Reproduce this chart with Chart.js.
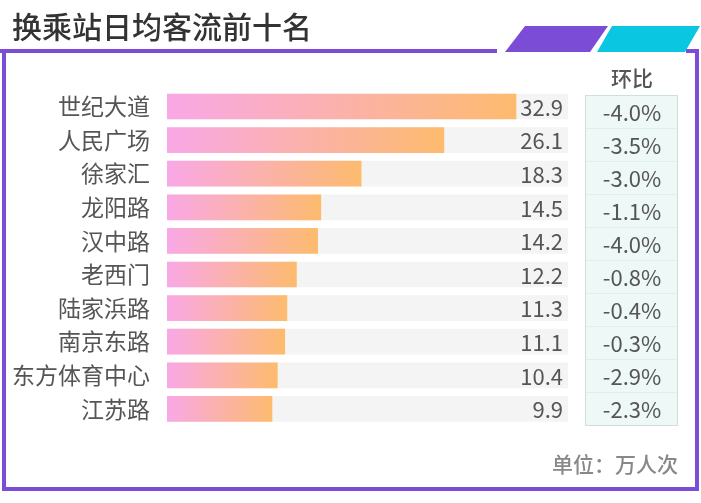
<!DOCTYPE html>
<html>
<head>
<meta charset="utf-8">
<script src="https://cdn.jsdelivr.net/npm/chart.js@4.4.1/dist/chart.umd.min.js"></script>
<style>
  html, body { margin: 0; padding: 0; background: #fff; }
  #wrap { position: relative; width: 701px; height: 503px; }
</style>
</head>
<body>
<div id="wrap"><canvas id="myChart" width="701" height="503"></canvas></div>
<script>
const TITLE = '换乘站日均客流前十名';
const UNIT = '单位：万人次';
const CHANGE_TITLE = '环比';
const stations = ['世纪大道', '人民广场', '徐家汇', '龙阳路', '汉中路', '老西门', '陆家浜路', '南京东路', '东方体育中心', '江苏路'];
const flows = [32.9, 26.1, 18.3, 14.5, 14.2, 12.2, 11.3, 11.1, 10.4, 9.9];
const changes = ['-4.0%', '-3.5%', '-3.0%', '-1.1%', '-4.0%', '-0.8%', '-0.4%', '-0.3%', '-2.9%', '-2.3%'];
const AXIS_MAX = 37.8;
const tracks = stations.map(() => AXIS_MAX);

const FONT = '"Noto Sans CJK SC", "Noto Sans", sans-serif';
const PURPLE = '#7b4dd6';
const CYAN = '#0bc6e0';

// frame, title, decorations, value labels and the change table
const decor = {
  id: 'decor',
  beforeDraw(chart) {
    const c = chart.ctx;
    c.save();
    c.fillStyle = '#fff';
    c.fillRect(0, 0, chart.width, chart.height);
    // title
    c.fillStyle = '#333';
    c.font = '500 30px ' + FONT;
    c.textBaseline = 'middle';
    c.textAlign = 'left';
    c.fillText(TITLE, 12, 27);
    // frame
    c.fillStyle = PURPLE;
    c.fillRect(0, 49, 497, 4);
    c.fillRect(686, 49, 13, 4);
    c.fillRect(2, 49, 4, 442);
    c.fillRect(2, 487, 697, 4);
    c.fillRect(695, 49, 4, 442);
    // parallelograms
    c.beginPath();
    c.moveTo(525, 26); c.lineTo(608, 26); c.lineTo(590, 52); c.lineTo(505, 52);
    c.closePath(); c.fill();
    c.fillStyle = CYAN;
    c.beginPath();
    c.moveTo(612, 26); c.lineTo(700, 26); c.lineTo(685, 52); c.lineTo(597, 52);
    c.closePath(); c.fill();
    c.restore();
  },
  afterDatasetsDraw(chart) {
    const c = chart.ctx;
    const area = chart.chartArea;
    c.save();
    // values
    c.fillStyle = '#555';
    c.font = '22px ' + FONT;
    c.textAlign = 'right';
    c.textBaseline = 'middle';
    const meta = chart.getDatasetMeta(1);
    meta.data.forEach((bar, i) => {
      c.fillText(flows[i].toFixed(1), area.right - 5, bar.y + 1);
    });
    // change table
    const step = 33;
    const left = 585, right = 677;
    const top = 95;
    c.fillStyle = '#eef8f7';
    c.fillRect(left, top, right - left, step * changes.length);
    c.strokeStyle = '#cfe0dc';
    c.lineWidth = 1;
    c.strokeRect(left + 0.5, top + 0.5, right - left, step * changes.length);
    c.strokeStyle = '#e2eeeb';
    for (let i = 1; i < changes.length; i++) {
      const ly = Math.round(top + step * i) + 0.5;
      c.beginPath(); c.moveTo(left + 1, ly); c.lineTo(right, ly); c.stroke();
    }
    c.fillStyle = '#555';
    c.textAlign = 'center';
    changes.forEach((t, i) => {
      c.fillText(t, (left + right) / 2 + 1, top + step * (i + 0.5) + 1);
    });
    c.font = '500 21px ' + FONT;
    c.fillText(CHANGE_TITLE, (left + right) / 2 + 1, 78);
    // unit
    c.fillStyle = '#888';
    c.textAlign = 'right';
    c.font = '500 21px ' + FONT;
    c.fillText(UNIT, 678, 464);
    c.restore();
  }
};

function barGradient(context) {
  const chart = context.chart;
  if (!chart.chartArea) return '#fdbb70';
  const x = chart.scales.x;
  const x0 = x.getPixelForValue(0);
  const x1 = x.getPixelForValue(flows[context.dataIndex]);
  const g = chart.ctx.createLinearGradient(x0, 0, x1, 0);
  g.addColorStop(0, '#f9a8e6');
  g.addColorStop(1, '#fdbb6e');
  return g;
}

const ctx = document.getElementById('myChart').getContext('2d');
const myChart = new Chart(ctx, {
  type: 'bar',
  data: {
    labels: stations,
    datasets: [{
      label: 'track',
      data: tracks,
      backgroundColor: '#f4f4f4',
      grouped: false,
      order: 2
    }, {
      label: '日均客流',
      data: flows,
      backgroundColor: barGradient,
      grouped: false,
      order: 1
    }]
  },
  options: {
    indexAxis: 'y',
    responsive: false,
    animation: false,
    maintainAspectRatio: false,
    layout: { padding: { left: 0, right: 133, top: 89.7, bottom: 77.3 } },
    datasets: { bar: { barThickness: 25, borderWidth: 0 } },
    scales: {
      x: { display: false, min: 0, max: AXIS_MAX },
      y: {
        grid: { display: false, drawTicks: false },
        border: { display: false },
        ticks: { color: '#555', font: { family: FONT, size: 23 }, padding: 17 },
        afterFit(scale) { scale.width = 167; }
      }
    },
    plugins: { legend: { display: false }, tooltip: { enabled: false } }
  },
  plugins: [decor]
});
</script>
</body>
</html>
